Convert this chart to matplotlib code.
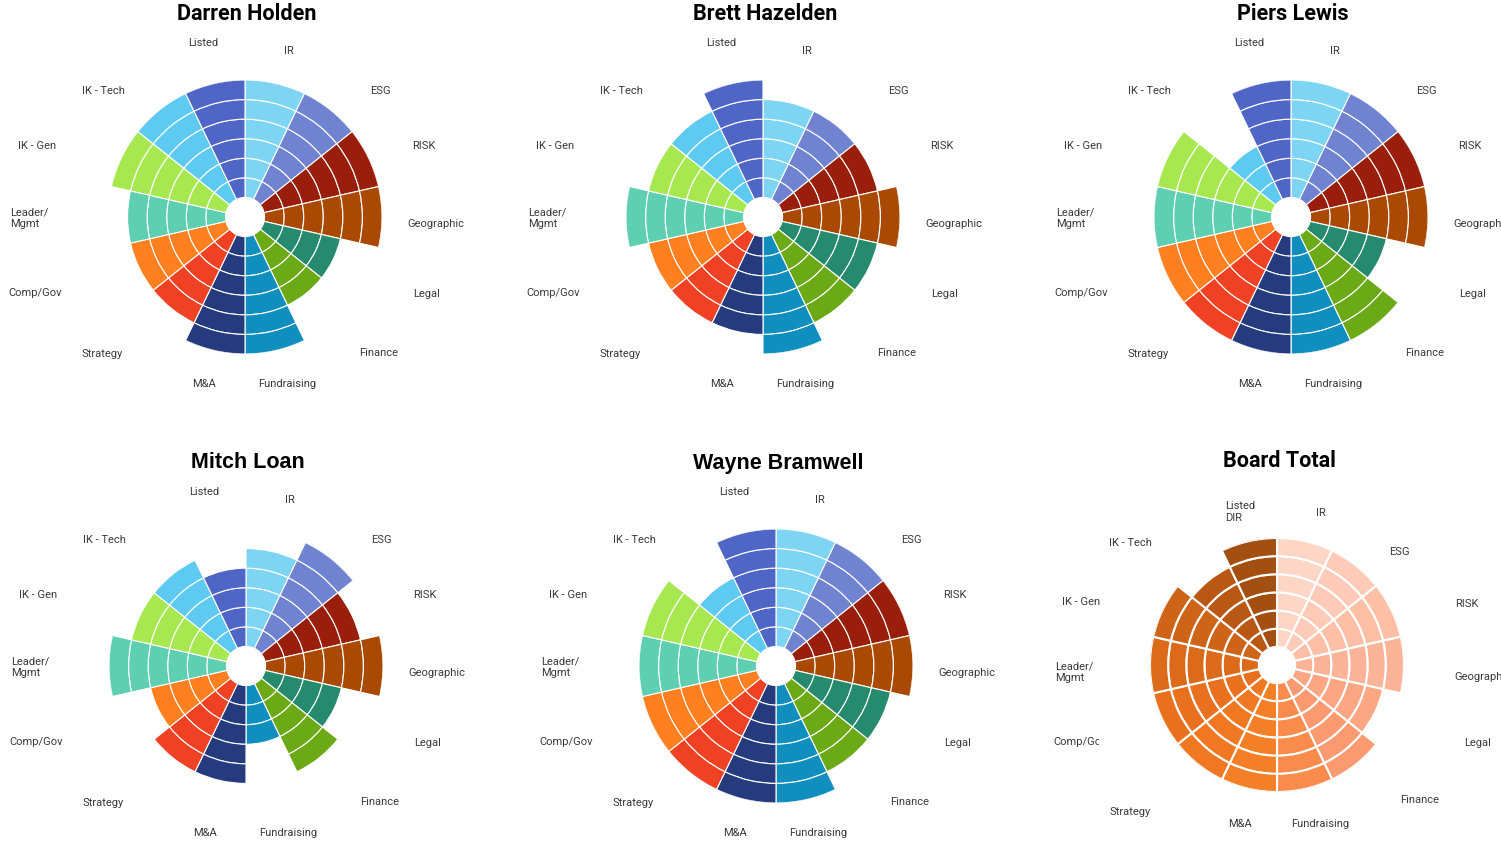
import numpy as np
import matplotlib
matplotlib.use("Agg")
import matplotlib.pyplot as plt
from matplotlib.transforms import IdentityTransform, Bbox

W, H = 1501, 842

# 14 skill areas, clockwise from 12 o'clock
categories = ["IR", "ESG", "RISK", "Geographic", "Legal", "Finance", "Fundraising",
              "M&A", "Strategy", "Comp/Gov", "Leader/\nMgmt", "IK - Gen", "IK - Tech", "Listed"]
board_categories = categories[:-1] + ["Listed\nDIR"]

# scores (number of rings per wedge)
darren = [6, 6, 6, 6, 4, 4, 6, 6, 5, 5, 5, 6, 6, 6]
brett = [5, 5, 5, 6, 5, 5, 6, 5, 5, 5, 6, 5, 5, 6]
piers = [6, 6, 6, 6, 4, 6, 6, 6, 6, 6, 6, 6, 3, 6]
mitch = [5, 6, 5, 6, 4, 5, 3, 5, 5, 4, 6, 5, 5, 4]
wayne = [6, 6, 6, 6, 5, 5, 6, 6, 6, 6, 6, 6, 4, 6]
board = [6, 6, 6, 6, 5, 6, 6, 6, 6, 6, 6, 6, 5, 6]

cat_colors = ["#7DD5F3", "#7083D1", "#991E0B", "#AA4A02", "#268A6F", "#6CA916", "#108EBE",
              "#263A7E", "#EF4124", "#FE8021", "#5ECFB1", "#A7E851", "#5ECAF1", "#4F66C7"]
board_colors = ["#FDD6C6", "#FDCBB7", "#FDC0A7", "#FCB498", "#FCA684", "#FB9A70", "#F98B4C",
                "#F47F26", "#F07822", "#E8701F", "#DC6A1B", "#CE6418", "#B95714", "#A34F12"]

# label centre offsets from the rose centre (px, y downwards)
label_offsets = [(44, -166), (135, -126), (179, -71), (191, 7), (182, 77), (134, 136),
                 (42, 167), (-41, 167), (-143, 137), (-210, 76), (-216, 1), (-208, -71),
                 (-142, -126), (-42, -174)]
board_label_offsets = [(44, -152), (122, -113), (190, -61), (206, 12), (201, 78), (143, 135),
                       (43, 159), (-37, 159), (-147, 147), (-197, 77), (-203, 7), (-196, -63),
                       (-147, -122), (-37, -153)]

# chart layout: name, values, labels, colours, centre x, centre y, radius (px), title font
charts = [
    ("Darren Holden", darren, categories, cat_colors, 245, 217, 137, "Roboto"),
    ("Brett Hazelden", brett, categories, cat_colors, 763, 217, 137, "Roboto"),
    ("Piers Lewis", piers, categories, cat_colors, 1291, 217, 137, "Roboto"),
    ("Mitch Loan", mitch, categories, cat_colors, 246, 666, 137, "Liberation Sans"),
    ("Wayne Bramwell", wayne, categories, cat_colors, 776, 666, 137, "Liberation Sans"),
    ("Board Total", board, board_categories, board_colors, 1277, 665, 127, "Roboto"),
]

fig = plt.figure(figsize=(W / 100, H / 100), dpi=100)
fig.patch.set_facecolor("white")

n = len(categories)
width = 2 * np.pi / n
theta = np.arange(n) * width + width / 2

for name, vals, labels, colors, cx, cy, rad, tfont in charts:
    ax = fig.add_axes([(cx - rad) / W, 1 - (cy + rad) / H, 2 * rad / W, 2 * rad / H],
                      projection="polar")
    ax.set_theta_zero_location("N")
    ax.set_theta_direction(-1)
    board_chart = name == "Board Total"
    lw = 1.5 if board_chart else 0.8
    vals = np.array(vals)
    for k in range(vals.max()):
        m = vals > k
        ax.bar(theta[m], 1, width=width, bottom=1 + k, color=np.array(colors)[m],
               edgecolor="white", linewidth=lw, align="center")
    ax.set_ylim(0, 7)
    ax.set_xticks([])
    ax.set_yticks([])
    ax.grid(False)
    ax.spines["polar"].set_visible(False)
    ax.patch.set_alpha(0)

    # labels round the rose
    offsets = board_label_offsets if board_chart else label_offsets
    for (dx, dy), lab in zip(offsets, labels):
        txt = fig.text(cx + dx, H - (cy + dy), lab, transform=IdentityTransform(),
                       ha="center", va="center", multialignment="left",
                       fontsize=8, family="Roboto", color="#3a3a3a")
        if board_chart and lab == "Comp/Gov":
            txt.set_clip_box(Bbox.from_extents(0, 0, 1099, H))
            txt.set_clip_on(True)

    ty = 14 if cy < 400 else (461 if board_chart else 463)
    fig.text(cx + 2, H - ty, name, transform=IdentityTransform(), ha="center", va="center",
             fontsize=15.5, fontweight="bold", family=tfont, color="black")

fig.savefig("out.png", dpi=100)
